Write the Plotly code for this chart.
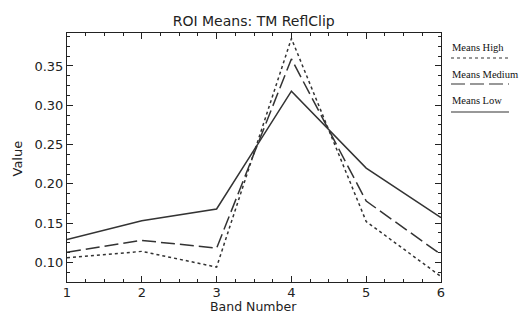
import plotly.graph_objects as go

bands = [1, 2, 3, 4, 5, 6]
means_high = [0.106, 0.114, 0.094, 0.385, 0.152, 0.082]
means_medium = [0.113, 0.128, 0.118, 0.359, 0.178, 0.110]
means_low = [0.129, 0.153, 0.168, 0.318, 0.220, 0.157]
series_names = ["Means High", "Means Medium", "Means Low"]
y_ticks = [0.10, 0.15, 0.20, 0.25, 0.30, 0.35]
y_tick_labels = ["0.10", "0.15", "0.20", "0.25", "0.30", "0.35"]

line_color = "#333333"
dashes = ["3px,3px", "14px,5px", "solid"]
series = [means_high, means_medium, means_low]

fig = go.Figure()
for name, vals, dash in zip(series_names, series, dashes):
    fig.add_trace(go.Scatter(x=bands, y=vals, mode="lines", name=name,
                             line=dict(color=line_color, width=1.5, dash=dash)))

axis_font = dict(family="DejaVu Sans", size=13, color="#222222")
L, R, T, B = 67, 441, 33, 282
pw, ph = R - L, B - T
fig.update_layout(
    width=524, height=314,
    margin=dict(l=L, r=524 - R, t=T, b=314 - B),
    paper_bgcolor="white", plot_bgcolor="white",
    showlegend=False,
    title=dict(text="ROI Means: TM ReflClip", x=253.7/524, xanchor="center",
               y=1 - 21/314, yanchor="middle",
               font=dict(family="DejaVu Sans", size=14, color="#222222")),
    xaxis=dict(range=[1, 6], tickvals=bands, ticktext=[str(b) for b in bands],
               ticks="inside", ticklen=6, tickcolor="#222222", ticklabelstandoff=-2,
               showline=True, linecolor="#222222", linewidth=1, mirror="allticks",
               showgrid=False, zeroline=False, tickfont=axis_font,
               minor=dict(dtick=0.25, ticks="inside", ticklen=3, tickcolor="#222222")),
    yaxis=dict(range=[0.075, 0.392], tickvals=y_ticks, ticktext=y_tick_labels,
               ticks="inside", ticklen=6, tickcolor="#222222",
               showline=True, linecolor="#222222", linewidth=1, mirror="allticks",
               showgrid=False, zeroline=False, tickfont=axis_font,
               minor=dict(tick0=0.075, dtick=0.0125, ticks="inside", ticklen=3, tickcolor="#222222")),
)

# Axis titles
fig.add_annotation(text="Band Number", xref="paper", yref="paper",
                   x=(253.7 - L) / pw, y=-(306 - B) / ph, xanchor="center", yanchor="middle",
                   showarrow=False, font=dict(family="DejaVu Sans", size=12.5, color="#222222"))
fig.add_annotation(text="Value", xref="paper", yref="paper", textangle=-90,
                   x=-(L - 16.5) / pw, y=(B - 158) / ph, xanchor="center", yanchor="middle",
                   showarrow=False, font=axis_font)

# Legend drawn at the right side (text above line sample)
leg_text_y = [48, 74, 100]
leg_line_y = [58, 84, 112]
for name, dash, ty, ly in zip(series_names, dashes, leg_text_y, leg_line_y):
    fig.add_annotation(text=name, xref="paper", yref="paper",
                       x=(450 - L) / pw, y=(B - ty) / ph,
                       xanchor="left", yanchor="middle", showarrow=False,
                       font=dict(family="Liberation Serif", size=10.5, color="#111111"))
    fig.add_shape(type="line", xref="paper", yref="paper",
                  x0=(451 - L) / pw, x1=(509 - L) / pw,
                  y0=(B - ly) / ph, y1=(B - ly) / ph,
                  line=dict(color=line_color, width=1.2, dash=dash))

fig.write_html("out.html", config={"displayModeBar": False},
               post_script="document.body.style.margin='0';document.body.style.padding='0';")
